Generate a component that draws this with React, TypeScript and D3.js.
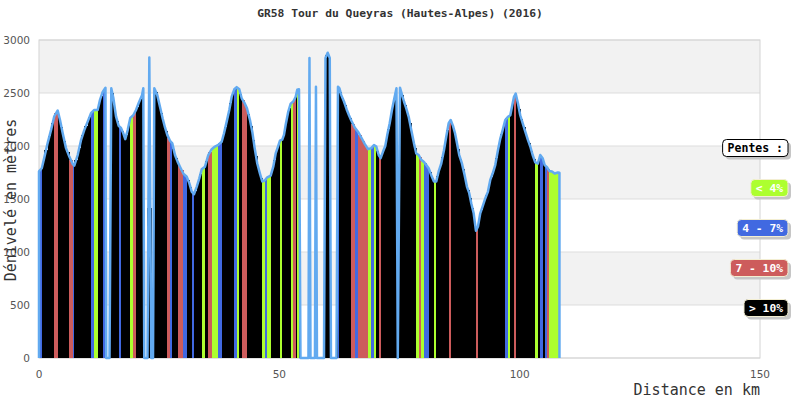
import * as d3 from 'd3';

// profile: distance (km) and elevation (m)
const distances = [
  0.0, 0.58, 1.1, 1.81, 2.5, 3.18, 3.89, 4.37, 4.93, 5.62, 6.3, 7.01, 7.34, 8.05, 8.74, 9.42,
  10.13, 10.82, 11.5, 12.21, 12.69, 13.25, 13.83, 13.99, 14.67, 15.04, 15.46, 16.02, 16.58, 17.06,
  17.54, 17.95, 18.45, 18.99, 19.62, 20.18, 20.74, 21.43, 21.7, 21.9, 22.57, 22.95, 23.36, 23.72,
  23.99, 24.61, 25.17, 25.73, 26.21, 26.69, 27.25, 27.73, 28.29, 28.85, 29.33, 30.02, 30.73, 31.27,
  31.77, 32.24, 32.81, 33.35, 33.85, 34.53, 35.22, 35.93, 36.61, 37.3, 38.01, 38.49, 39.05, 39.59,
  40.09, 40.63, 41.13, 41.67, 42.17, 42.71, 43.27, 43.89, 44.37, 44.87, 45.41, 45.97, 46.45, 46.95,
  47.49, 48.2, 48.74, 49.24, 49.72, 50.13, 50.61, 50.97, 51.32, 51.86, 52.36, 52.9, 53.4, 53.73,
  54.09, 54.4, 56.06, 56.27, 56.48, 57.41, 57.62, 57.83, 59.29, 59.6, 60.06, 60.49, 60.74, 61.89,
  62.2, 62.51, 62.89, 63.45, 64.01, 64.49, 64.97, 65.68, 66.36, 67.05, 67.76, 68.44, 69.13, 69.69,
  70.17, 70.67, 71.08, 71.56, 72.04, 72.46, 72.96, 73.43, 73.85, 74.37, 74.64, 75.1, 75.93, 76.41,
  76.91, 77.45, 78.01, 78.49, 78.99, 79.53, 80.09, 80.57, 81.07, 81.61, 82.17, 82.65, 83.15, 83.69,
  84.25, 84.73, 85.23, 85.65, 86.13, 86.55, 86.96, 87.43, 87.99, 88.55, 89.04, 89.51, 89.93, 90.43,
  90.91, 91.33, 91.8, 92.3, 92.84, 93.4, 93.88, 94.38, 94.92, 95.48, 95.97, 96.46, 97.0, 97.57,
  98.05, 98.4, 98.82, 99.17, 99.65, 100.12, 100.62, 101.17, 101.73, 102.21, 102.7, 103.24, 103.8,
  104.28, 104.78, 105.2, 105.68, 106.16, 106.72, 107.28, 107.97, 108.28,
];
const elevations = [
  1760, 1790, 1890, 2030, 2150, 2280, 2335, 2245, 2120, 1980, 1900, 1830, 1815, 1915, 2055, 2150,
  2230, 2310, 2340, 2340, 2435, 2510, 2550, 0, 0, 2545, 2455, 2280, 2190, 2170,
  2120, 2065, 2150, 2265, 2290, 2340, 2405, 2480, 2545, 0, 0, 2835, 0, 0,
  2545, 2480, 2370, 2260, 2175, 2105, 2050, 2025, 1915, 1850, 1805, 1740, 1710, 1650,
  1570, 1545, 1615, 1695, 1780, 1805, 1915, 1970, 1995, 2010, 2040, 2120, 2230, 2340,
  2465, 2535, 2555, 2535, 2450, 2410, 2355, 2245, 2135, 1980, 1835, 1740, 1665, 1675,
  1705, 1720, 1805, 1930, 1995, 2050, 2060, 2105, 2200, 2325, 2400, 2420, 2465, 2530,
  2535, 0, 0, 2830, 0, 0, 2560, 0, 0, 2830, 2880, 2830, 0, 0,
  2560, 2545, 2480, 2420, 2345, 2290, 2240, 2175, 2135, 2080, 2020, 1970, 1980, 2010,
  1995, 1915, 1885, 1945, 2000, 2105, 2215, 2340, 2435, 2545, 0, 2550, 2420, 2355,
  2275, 2150, 2025, 1930, 1915, 1870, 1850, 1820, 1790, 1725, 1665, 1665, 1760, 1835,
  1960, 2090, 2215, 2245, 2190, 2120, 2025, 1915, 1835, 1725, 1615, 1555, 1460, 1365,
  1200, 1240, 1365, 1430, 1505, 1570, 1680, 1740, 1820, 1960, 2070, 2150, 2245, 2275,
  2290, 2370, 2465, 2495, 2400, 2290, 2215, 2135, 2055, 1995, 1915, 1845, 1835,
  1915, 1885, 1820, 1800, 1765, 1760, 1740, 1750, 1748,
];

const yTicks = [0, 500, 1000, 1500, 2000, 2500, 3000];
const xTicks = [0, 50, 100, 150];
const penteLabels = ['< 4%', '4 - 7%', '7 - 10%', '> 10%'];
const penteColors = ['#adff2f', '#4169e1', '#cd5c5c', '#000000'];
const penteLimits = [4, 7, 10];

const title = 'GR58 Tour du Queyras (Hautes-Alpes) (2016)';

type Pt = { d: number; e: number };

const left = 39;
const right = 760;
const top = 40;
const bottom = 358;
const mono = '"DejaVu Sans Mono", monospace';
const sans = '"DejaVu Sans", sans-serif';

export default function App() {
  const x = d3.scaleLinear().domain([0, 150]).range([left, right]);
  const y = d3.scaleLinear().domain([0, 3000]).range([bottom, top]);

  const points: Pt[] = distances.map((d, i) => ({ d, e: elevations[i] }));
  const bars = d3.pairs(points).map(([a, b]) => {
    const pente = (Math.abs(b.e - a.e) / ((b.d - a.d) * 1000)) * 100;
    return { a, b, h: (a.e + b.e) / 2, color: penteColors[d3.bisectRight(penteLimits, pente)] };
  });

  const last = points[points.length - 1];
  const outline = [{ d: 0, e: 0 }, ...points, { d: last.d, e: 0 }];
  const linePath =
    d3
      .line<Pt>()
      .x((p) => x(p.d))
      .y((p) => y(p.e))(outline) ?? '';

  const legend = [
    { label: 'Pentes :', fill: '#ffffff', stroke: '#000000', text: '#000000' },
    ...penteLabels.map((label, i) => ({ label, fill: penteColors[i], stroke: '#f3eed2', text: '#ffffff' })),
  ];

  return (
    <svg
      width={800}
      height={400}
      style={{ position: 'absolute', left: 0, top: 0, background: '#fff' }}
    >
      {/* alternating bands */}
      {d3.pairs(yTicks).map(([lo, hi], i) => (
        <rect
          key={lo}
          x={left}
          y={y(hi)}
          width={right - left}
          height={y(lo) - y(hi)}
          fill={i % 2 === 1 ? '#f2f2f2' : '#ffffff'}
        />
      ))}
      {yTicks.map((t) => (
        <line key={t} x1={left} x2={right} y1={y(t)} y2={y(t)} stroke="#dddddd" />
      ))}
      <rect x={left} y={top} width={right - left} height={bottom - top} fill="none" stroke="#d4d4d4" />

      {/* profile bars, coloured by slope */}
      <g shapeRendering="crispEdges">
        {bars.map((b, i) =>
          b.h > 0 ? (
            <rect
              key={i}
              x={x(b.a.d)}
              y={y(b.h)}
              width={Math.max(x(b.b.d) - x(b.a.d), 0.6) + 0.3}
              height={y(0) - y(b.h)}
              fill={b.color}
            />
          ) : null,
        )}
      </g>
      <path d={linePath} fill="none" stroke="#62aaf0" strokeWidth={2.5} strokeLinejoin="round" />

      {/* axes text */}
      {yTicks.map((t) => (
        <text
          key={t}
          x={30}
          y={y(t)}
          textAnchor="end"
          dominantBaseline="central"
          fontFamily={sans}
          fontSize={10.5}
          fill="#555"
        >
          {t}
        </text>
      ))}
      {xTicks.map((t) => (
        <text key={t} x={x(t)} y={378} textAnchor="middle" fontFamily={sans} fontSize={10.5} fill="#555">
          {t}
        </text>
      ))}
      <text x={400} y={17} textAnchor="middle" fontFamily={mono} fontWeight="bold" fontSize={11.3} fill="#333">
        {title}
      </text>
      <text
        transform="translate(15.5,200) rotate(-90)"
        textAnchor="middle"
        fontFamily={mono}
        fontSize={15}
        fill="#333"
      >
        Dénivelé en mètres
      </text>
      <text x={right} y={395} textAnchor="end" fontFamily={mono} fontSize={15} fill="#333">
        Distance en km
      </text>

      {/* legend */}
      {legend.map((it, k) => {
        const size = k === 0 ? 11.5 : 11.3;
        const w = it.label.length * size * 0.602 + 10;
        const y0 = 139.5 + 40 * k;
        const x0 = 788 - w;
        return (
          <g key={it.label}>
            <rect x={x0 + 3} y={y0 + 3} width={w} height={17} rx={4} fill="#c6c6c6" />
            <rect x={x0} y={y0} width={w} height={17} rx={4} fill={it.fill} stroke={it.stroke} />
            <text
              x={x0 + w / 2}
              y={y0 + 8.5}
              textAnchor="middle"
              dominantBaseline="central"
              fontFamily={mono}
              fontWeight="bold"
              fontSize={size}
              fill={it.text}
            >
              {it.label}
            </text>
          </g>
        );
      })}
    </svg>
  );
}
